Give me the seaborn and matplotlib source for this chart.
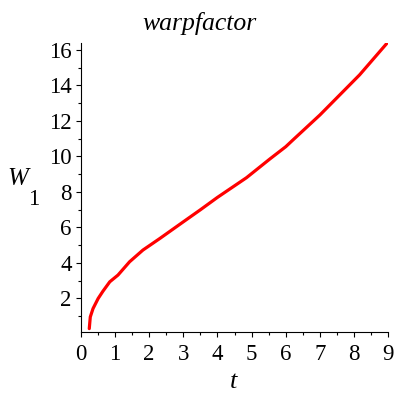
import numpy as np
import pandas as pd
import matplotlib
matplotlib.use('Agg')
import matplotlib.pyplot as plt
from matplotlib.ticker import MultipleLocator
import seaborn as sns

# values
t_vals = [0.25, 0.28, 0.36, 0.51, 0.65, 0.85, 1.09, 1.43, 1.82, 2.32, 2.70,
          3.00, 3.50, 4.00, 4.85, 5.53, 6.00, 6.21, 7.00, 8.16, 8.95]
w_vals = [0.29, 0.95, 1.42, 1.99, 2.40, 2.93, 3.31, 4.06, 4.72, 5.38, 5.90,
          6.31, 6.99, 7.69, 8.80, 9.85, 10.55, 10.93, 12.34, 14.60, 16.36]

x_ticks = list(range(0, 10))
y_ticks = list(range(2, 17, 2))

title = 'warpfactor'
x_name = 't'
y_name = 'W'
y_sub = '1'

df = pd.DataFrame({'t': t_vals, 'W': w_vals})

sns.set_style('ticks')
plt.rcParams['font.family'] = ['Liberation Serif', 'DejaVu Serif']
plt.rcParams['text.color'] = 'black'

fig = plt.figure(figsize=(4, 4), dpi=100)
ax = fig.add_axes([0.2018, 0.17, 0.769, 0.7218])

sns.lineplot(data=df, x='t', y='W', color='#ff0000', linewidth=2.3,
             sort=False, ax=ax)

ax.set_xlim(0, 9)
ax.set_ylim(0.1, 16.38)
ax.set_xticks(x_ticks)
ax.set_yticks(y_ticks)
ax.xaxis.set_minor_locator(MultipleLocator(0.5))
ax.yaxis.set_minor_locator(MultipleLocator(1))
ax.set_xlabel('')
ax.set_ylabel('')

for side in ['top', 'right']:
    ax.spines[side].set_visible(False)
for side in ['left', 'bottom']:
    ax.spines[side].set_linewidth(0.8)
    ax.spines[side].set_color('black')

ax.tick_params(axis='both', which='major', length=3.5, width=0.8,
               labelsize=16.5, colors='black')
ax.tick_params(axis='both', which='minor', length=2.2, width=0.8,
               colors='black')
ax.tick_params(axis='x', which='major', pad=5)
ax.tick_params(axis='y', which='major', pad=3)

fig.text(0.5, 1 - 30 / 400, title, fontsize=18.5, style='italic',
         color='black', ha='center', va='baseline')
fig.text(17.5 / 400, 1 - 185 / 400, y_name, fontsize=18, style='italic',
         color='black', ha='center', va='baseline')
fig.text(34 / 400, 1 - 205 / 400, y_sub, fontsize=16.5,
         color='black', ha='center', va='baseline')
fig.text(234 / 400, 1 - 388 / 400, x_name, fontsize=19, style='italic',
         color='black', ha='center', va='baseline')

fig.savefig('out.png', dpi=100, facecolor='white')
